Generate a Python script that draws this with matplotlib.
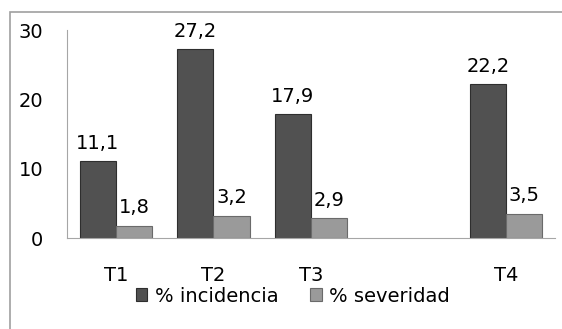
import numpy as np
from matplotlib import pyplot as plt
from matplotlib.patches import Rectangle

categories = ["T1", "T2", "T3", "", "T4"]
incidencia = [11.1, 27.2, 17.9, np.nan, 22.2]
severidad = [1.8, 3.2, 2.9, np.nan, 3.5]
labels_inc = ["11,1", "27,2", "17,9", "", "22,2"]
labels_sev = ["1,8", "3,2", "2,9", "", "3,5"]

plt.rcParams['font.family'] = ['DejaVu Sans']
fs = 14

fig = plt.figure(figsize=(5.62, 3.29), dpi=100)
ax = fig.add_axes([67/562, 1-238/329, 488/562, 208/329])

x = np.arange(len(categories))
w = 0.37
b1 = ax.bar(x - w/2, incidencia, w, color="#515151", edgecolor="#2e2e2e", linewidth=0.8,
            label="% incidencia")
b2 = ax.bar(x + w/2, severidad, w, color="#9a9a9a", edgecolor="#6a6a6a", linewidth=0.8,
            label="% severidad")

for xi, v, t in zip(x, incidencia, labels_inc):
    if t:
        ax.annotate(t, (xi - w/2, v), xytext=(0, 6), textcoords="offset points",
                    ha="center", va="bottom", fontsize=fs)
for xi, v, t in zip(x, severidad, labels_sev):
    if t:
        ax.annotate(t, (xi + w/2, v), xytext=(0, 6), textcoords="offset points",
                    ha="center", va="bottom", fontsize=fs)

ax.set_xlim(-0.5, len(categories) - 0.5)
ax.set_ylim(0, 30)
ax.set_yticks([0, 10, 20, 30])
ax.set_xticks(x)
ax.set_xticklabels(categories)
ax.tick_params(axis="y", length=0, pad=17, labelsize=fs)
ax.tick_params(axis="x", length=0, pad=20, labelsize=fs)
for s in ["top", "right"]:
    ax.spines[s].set_visible(False)
ax.spines["left"].set_color("#a6a6a6")
ax.spines["bottom"].set_color("#a6a6a6")

fig.legend(handles=[b1, b2], loc="center", bbox_to_anchor=(293/562, 1-296/329), ncol=2,
           frameon=False, fontsize=fs, handlelength=0.6, handleheight=0.6,
           handletextpad=0.4, columnspacing=1.6, borderpad=0)

fig.patches.append(Rectangle((10/562, -0.1), 1.0, (329-12)/329 + 0.1,
                             transform=fig.transFigure, fill=False,
                             edgecolor="#a0a0a0", linewidth=1.2))

fig.savefig("out.png", dpi=100)
